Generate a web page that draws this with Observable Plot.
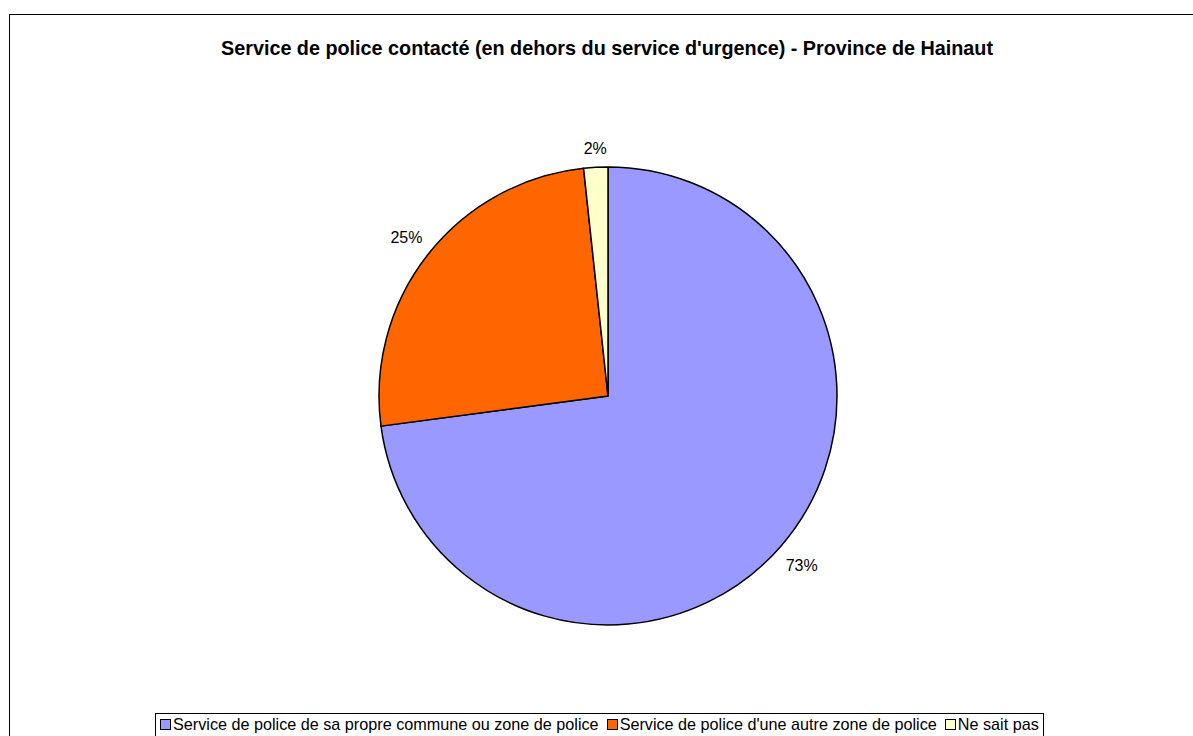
<!DOCTYPE html>
<html>
<head>
<meta charset="utf-8">
<script src="https://cdn.jsdelivr.net/npm/d3@7"></script>
<script src="https://cdn.jsdelivr.net/npm/@observablehq/plot@0.6"></script>
<style>
  html, body { margin: 0; padding: 0; background: #fff; }
  body { width: 1193px; height: 736px; overflow: hidden; position: relative; font-family: Arial, "Liberation Sans", sans-serif; }
  #frame { position: absolute; left: 9px; top: 14px; width: 1300px; height: 800px; border: 1.5px solid #000; box-sizing: border-box; }
  #title { position: absolute; left: 0; top: 36px; width: 1214px; text-align: center; font-weight: bold; font-size: 19.8px; line-height: 24px; color: #000; }
  #chart { position: absolute; left: 0; top: 0; }
  #legend { position: absolute; left: 155px; top: 713px; height: 40px; border: 1px solid #000; padding: 1px 4px 0 4px; font-size: 16.2px; white-space: nowrap; color: #000; background: #fff; }
  .item { display: inline-flex; align-items: center; margin-right: 8px; }
  .item:last-child { margin-right: 0; }
  .sw { display: inline-block; width: 9px; height: 9px; border: 1.2px solid #000; margin-right: 2px; }
</style>
</head>
<body>
<div id="frame"></div>
<div id="chart"></div>
<div id="title">Service de police contacté (en dehors du service d'urgence) - Province de Hainaut</div>
<div id="legend"></div>
<script>
const categories = [
  "Service de police de sa propre commune ou zone de police",
  "Service de police d'une autre zone de police",
  "Ne sait pas"
];
const values = [72.9, 25.4, 1.7];
const colors = ["#9999FF", "#FF6600", "#FFFFCC"];

const W = 1193, H = 736;
const mL = 379, mR = 356, mT = 167, mB = 111;
const labelFont = 16;

const data = categories.map((c, i) => ({category: c, value: values[i], color: colors[i]}));
const arcs = d3.pie().sort(null).value(d => d.value).startAngle(0).endAngle(2 * Math.PI)(data);
const mid = a => (a.startAngle + a.endAngle) / 2;
const labelText = d => Math.round(d.data.value) + "%";

// label distance: outside the pie, text box kept a small gap away from the rim
const Rpx = (W - mL - mR) / 2;
function labelDist(d) {
  const t = labelText(d);
  const wEm = [...t].reduce((s, ch) => s + (ch === "%" ? 0.889 : 0.556), 0);
  const hw = wEm * labelFont / 2, hh = labelFont * 0.5;
  const a = mid(d);
  const ext = hw * Math.abs(Math.sin(a)) + hh * Math.abs(Math.cos(a));
  return (Rpx + 10.5 + ext) / Rpx;
}

function pieMark(index, scales) {
  const cx = scales.x(0), cy = scales.y(0);
  const r = scales.x(1) - cx;
  const arcGen = d3.arc().innerRadius(0).outerRadius(r);
  const g = d3.create("svg:g").attr("transform", `translate(${cx},${cy})`);
  g.selectAll("path").data(arcs).join("path")
    .attr("d", arcGen)
    .attr("fill", d => d.data.color)
    .attr("stroke", "#000")
    .attr("stroke-width", 1.5)
    .attr("stroke-linejoin", "round");
  return g.node();
}

const plot = Plot.plot({
  width: W,
  height: H,
  marginLeft: mL,
  marginRight: mR,
  marginTop: mT,
  marginBottom: mB,
  x: {domain: [-1, 1], axis: null},
  y: {domain: [-1, 1], axis: null},
  style: {background: "transparent", fontFamily: "Arial, 'Liberation Sans', sans-serif"},
  marks: [
    pieMark,
    Plot.text(arcs, {
      x: d => labelDist(d) * Math.sin(mid(d)),
      y: d => labelDist(d) * Math.cos(mid(d)),
      text: labelText,
      fontSize: labelFont,
      fill: "#000",
      textAnchor: "middle",
      lineAnchor: "middle"
    })
  ]
});
document.getElementById("chart").appendChild(plot);

const legend = d3.select("#legend");
data.forEach(d => {
  const it = legend.append("span").attr("class", "item");
  it.append("span").attr("class", "sw").style("background", d.color);
  it.append("span").text(d.category);
});
</script>
</body>
</html>
